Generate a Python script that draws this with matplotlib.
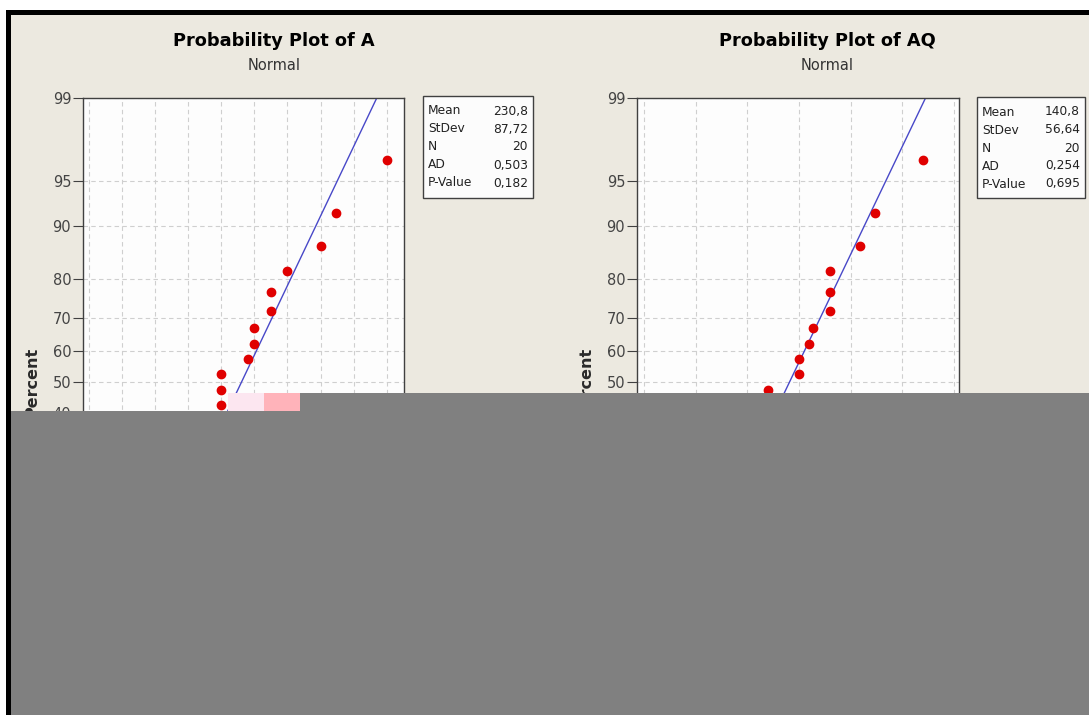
import numpy as np
import matplotlib.pyplot as plt
from matplotlib.patches import Rectangle, Polygon
from statistics import NormalDist

# observed values (the lowest ones sit under the grey patch, estimated)
data_a = [76, 120, 150, 160, 175, 180, 190, 200, 200, 200, 200,
          240, 250, 250, 275, 275, 300, 350, 374, 450]
data_aq = [54, 65, 80, 90, 95, 100, 110, 115, 120, 120, 150,
           150, 160, 164, 180, 180, 180, 209, 224, 270]

stats_a = {"Mean": "230,8", "StDev": "87,72", "N": "20", "AD": "0,503", "P-Value": "0,182"}
stats_aq = {"Mean": "140,8", "StDev": "56,64", "N": "20", "AD": "0,254", "P-Value": "0,695"}
mean_a, sd_a = 230.8, 87.72
mean_aq, sd_aq = 140.8, 56.64

pct_ticks = [1, 5, 10, 20, 30, 40, 50, 60, 70, 80, 90, 95, 99]

W, H = 1089, 715
BG = "#ECE9E0"
nd = NormalDist()


def z(p):
    return nd.inv_cdf(p / 100.0)


def fx(px):
    return px / W


def fy(py):
    return 1 - py / H


fig = plt.figure(figsize=(W / 100, H / 100), dpi=100)
fig.patch.set_facecolor(BG)


def prob_plot(left, right, data, mean, sd, xlim, xticks, stats, title, xlabel,
              title_x, ylab_x, box):
    top, bottom = 98, 666
    ax = fig.add_axes([fx(left), fy(bottom), fx(right - left), (bottom - top) / H])
    ax.set_facecolor("#FDFDFD")
    vals = np.sort(np.array(data, dtype=float))
    n = len(vals)
    ranks = np.arange(1, n + 1)
    pos = [z(100 * (i - 0.3) / (n + 0.4)) for i in ranks]
    zl, zh = z(1), z(99)
    ax.plot([mean + zl * sd, mean + zh * sd], [zl, zh], color="#4848C8", lw=1, zorder=2)
    ax.plot(vals, pos, "o", color="#E00000", ms=6, mec="#E00000", zorder=3)
    ax.set_ylim(zl, zh)
    ax.set_xlim(*xlim)
    ax.set_yticks([z(p) for p in pct_ticks])
    ax.set_yticklabels([str(p) for p in pct_ticks])
    ax.set_xticks(xticks)
    ax.grid(True, ls=(0, (4, 3)), color="#CFCFCF", lw=0.8)
    ax.set_axisbelow(True)
    ax.tick_params(labelsize=10.5, colors="#444444", length=7.5, width=0.8, pad=1)
    ax.tick_params(axis="y", colors="#404040", labelcolor="#444444")
    for s in ax.spines.values():
        s.set_color("#404040")
        s.set_linewidth(1)
    ax.set_xlabel(xlabel, fontsize=11)

    fig.text(fx(title_x), fy(41), title, ha="center", va="center",
             fontsize=12.8, fontweight="bold", family="DejaVu Sans")
    fig.text(fx(title_x), fy(65), "Normal", ha="center", va="center",
             fontsize=10.5, color="#333333")
    fig.text(fx(ylab_x), fy(382), "Percent", ha="center", va="center",
             rotation=90, fontsize=11.5, fontweight="bold", color="#2a2a2a")

    bx0, bx1, by0, by1 = box
    fig.patches.append(Rectangle((fx(bx0), fy(by1)), fx(bx1 - bx0), (by1 - by0) / H,
                                 transform=fig.transFigure, facecolor="#FCFCFC",
                                 edgecolor="#404040", lw=1))
    for k, (name, val) in enumerate(stats.items()):
        yy = by0 + 15 + k * 18
        fig.text(fx(bx0 + 5), fy(yy), name, ha="left", va="center", fontsize=8.8, color="#222222")
        fig.text(fx(bx1 - 5), fy(yy), val, ha="right", va="center", fontsize=8.8, color="#222222")
    return ax


prob_plot(83, 404, data_a, mean_a, sd_a, (-8.5, 476), np.arange(0, 451, 50),
          stats_a, "Probability Plot of A", "A", 274, 32, (423, 533, 96, 198))
prob_plot(637, 959, data_aq, mean_aq, sd_aq, (-7, 305), np.arange(0, 301, 50),
          stats_aq, "Probability Plot of AQ", "AQ", 827, 586, (977, 1085, 97, 198))

# screenshot frame and the grey cover patch
def rect(x0, y0, x1, y1, color, z=10):
    fig.patches.append(Rectangle((fx(x0), fy(y1)), fx(x1 - x0), (y1 - y0) / H,
                                 transform=fig.transFigure, facecolor=color,
                                 edgecolor="none", zorder=z))

rect(0, 0, W, 10, "white")
rect(0, 0, 6, H, "white")
rect(6, 10, W, 15, "black")
rect(6, 10, 11, H, "black")
cover = [(11, 411), (300, 411), (300, 393), (W, 393), (W, H), (11, H)]
fig.patches.append(Polygon([(fx(x), fy(y)) for x, y in cover], closed=True,
                           transform=fig.transFigure, facecolor="#808080",
                           edgecolor="none", zorder=10))
rect(264, 393, 300, 411, "#FFB3BA")
rect(228, 393, 264, 411, "#FCE6F0")

fig.savefig("out.png", dpi=100, facecolor=BG)
